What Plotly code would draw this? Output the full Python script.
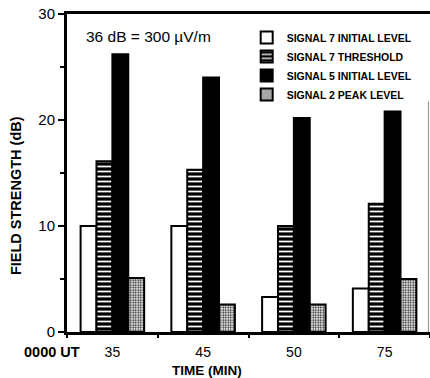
import plotly.graph_objects as go

# Time after 0000 UT (minutes)
times = ["35", "45", "50", "75"]

# Field strength in dB
sig7_initial = [10.0, 10.0, 3.3, 4.1]
sig7_threshold = [16.1, 15.3, 10.0, 12.1]
sig5_initial = [26.2, 24.0, 20.2, 20.8]
sig2_peak = [5.1, 2.6, 2.6, 5.0]

series_names = [
    "SIGNAL 7 INITIAL LEVEL",
    "SIGNAL 7 THRESHOLD",
    "SIGNAL 5 INITIAL LEVEL",
    "SIGNAL 2 PEAK LEVEL",
]

FONT = "Liberation Sans, Arial, sans-serif"

fig = go.Figure()

fig.add_bar(
    x=times, y=sig7_initial, name=series_names[0],
    marker=dict(color="white", line=dict(color="black", width=2)),
)
fig.add_bar(
    x=times, y=sig7_threshold, name=series_names[1],
    marker=dict(
        color="black", line=dict(color="black", width=2),
        pattern=dict(shape="-", fgcolor="white", bgcolor="black",
                     size=5, solidity=0.35, fillmode="replace"),
    ),
)
fig.add_bar(
    x=times, y=sig5_initial, name=series_names[2],
    marker=dict(color="black", line=dict(color="black", width=2)),
)
fig.add_bar(
    x=times, y=sig2_peak, name=series_names[3],
    marker=dict(
        color="white", line=dict(color="black", width=2),
        pattern=dict(shape=".", fgcolor="#222222", bgcolor="white",
                     size=2.5, solidity=0.45, fillmode="replace"),
    ),
)

fig.update_layout(
    width=430, height=378,
    margin=dict(l=67, r=0, t=14, b=46),
    paper_bgcolor="white", plot_bgcolor="white",
    barmode="group", bargap=0.3, bargroupgap=0,
    font=dict(family=FONT, color="black"),
    showlegend=True,
    legend=dict(
        x=0.495, y=0.972, xanchor="left", yanchor="top",
        bgcolor="rgba(0,0,0,0)", borderwidth=0,
        font=dict(family=FONT, size=10.5, color="black", weight="bold"),
        itemsizing="constant", tracegroupgap=0, itemwidth=30,
    ),
    xaxis=dict(
        type="category", showline=True, linecolor="black", linewidth=3,
        mirror=True, showgrid=False, zeroline=False,
        ticks="outside", tickson="boundaries", ticklen=3, tickwidth=2,
        tickcolor="black", ticklabelstandoff=5,
        tickfont=dict(family=FONT, size=14, color="black"),
    ),
    yaxis=dict(
        range=[0, 30], showline=True, linecolor="black", linewidth=3,
        showgrid=False, zeroline=False,
        tickvals=[0, 10, 20, 30], ticks="outside", ticklen=6, tickwidth=2,
        tickcolor="black",
        tickfont=dict(family=FONT, size=15, color="black"),
        minor=dict(tickvals=[5, 15, 25], ticks="outside", ticklen=4,
                   tickwidth=2, tickcolor="black"),
    ),
)

# Thin right-hand frame line
fig.add_shape(
    type="line", xref="paper", yref="paper",
    x0=0.9955, x1=0.9955, y0=0.0, y1=0.725,
    line=dict(color="#888888", width=1),
)

fig.add_annotation(
    text="36 dB = 300 \u00b5V/m", xref="paper", yref="paper",
    x=0.048, y=0.928, xanchor="left", yanchor="middle", showarrow=False,
    font=dict(family=FONT, size=15.5, color="black"),
)
fig.add_annotation(
    text="<b>0000 UT</b>", xref="paper", yref="paper",
    x=-0.041, y=-0.062, xanchor="center", yanchor="middle", showarrow=False,
    font=dict(family=FONT, size=14.5, color="black"),
)
fig.add_annotation(
    text="<b>TIME (MIN)</b>", xref="paper", yref="paper",
    x=0.385, y=-0.12, xanchor="center", yanchor="middle", showarrow=False,
    font=dict(family=FONT, size=13.5, color="black"),
)
fig.add_annotation(
    text="<b>FIELD STRENGTH (dB)</b>", xref="paper", yref="paper",
    x=-0.141, y=0.43, xanchor="center", yanchor="middle", showarrow=False,
    textangle=-90,
    font=dict(family=FONT, size=14.5, color="black"),
)

fig.write_html("out.html")
